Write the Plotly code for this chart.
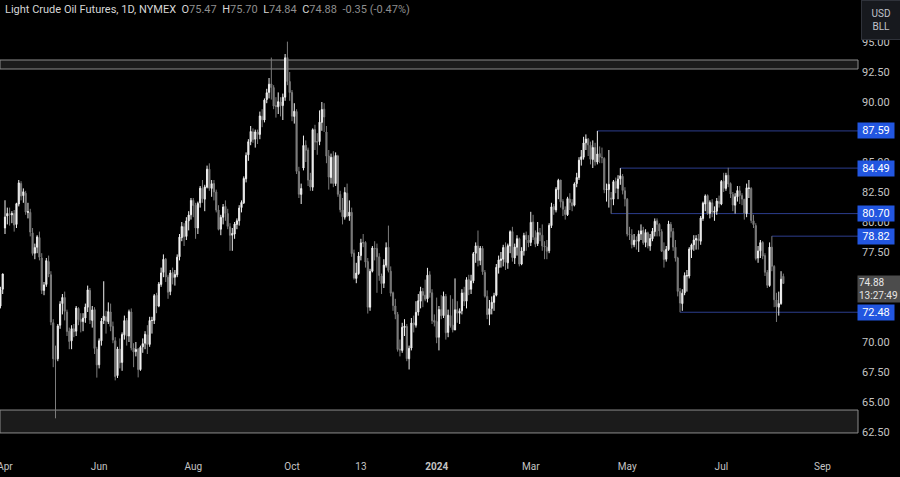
import pandas as pd
import plotly.graph_objects as go

# ---------------- trading calendar (x categories) ----------------
holidays = ["2023-04-07", "2023-05-29", "2023-06-19", "2023-07-04", "2023-09-04",
            "2023-11-23", "2023-12-25", "2024-01-01", "2024-01-15", "2024-02-19",
            "2024-03-29", "2024-05-27", "2024-06-19", "2024-07-04", "2024-09-02"]
calendar = pd.bdate_range("2023-03-27", "2024-09-30", freq="C", holidays=holidays)

# ---------------- daily OHLC ----------------
opens = [
    69.50, 72.90, 73.30, 73.00, 74.40,
    79.50, 80.50, 80.70, 80.60, 80.70, 79.80, 81.50, 83.20, 82.20, 82.40, 80.80, 80.80, 79.10, 77.40, 77.90, 78.70, 77.00, 74.30, 74.80,
    76.70, 75.60, 71.60, 68.60, 68.60, 71.40, 73.20, 73.70, 72.50, 70.90, 70.10, 71.10, 70.90, 72.80, 71.90, 71.70, 72.00, 72.90, 74.30, 71.80, 72.70, 69.40,
    68.10, 70.10, 71.80, 72.10, 71.70, 72.50, 71.30, 70.10, 67.20, 69.40, 68.30, 70.60, 71.80, 70.50, 72.50, 69.50, 69.20, 69.40, 67.70, 69.60, 69.90,
    70.60, 69.80, 71.80, 71.80, 73.90, 73.00, 74.80, 75.80, 76.90, 75.40, 74.20, 75.80, 75.40, 75.60, 77.10, 78.70, 79.60, 78.80, 80.10, 80.60,
    81.80, 81.40, 79.50, 81.60, 82.80, 81.90, 82.90, 84.40, 82.80, 83.20, 82.50, 81.00, 79.40, 80.40, 81.30, 80.70, 79.60, 78.90, 79.00, 79.80, 80.10, 81.20, 81.60,
    83.60, 85.60, 86.70, 87.50, 86.90, 87.50, 87.30, 88.80, 88.50, 90.20, 90.80, 91.50, 91.20, 89.70, 89.60, 90.00, 89.70, 90.40, 93.70, 91.70,
    90.80, 88.80, 89.20, 84.20, 82.30, 84.50, 86.40, 86.00, 83.50, 82.90, 87.70, 86.70, 86.70, 88.30, 89.40, 87.50, 85.50, 83.70, 85.40, 83.20, 85.50, 82.30,
    81.00, 80.40, 82.40, 80.50, 80.80, 77.40, 75.30, 75.70, 77.20, 78.30, 78.30, 76.70, 72.90, 75.90, 77.80, 77.80, 77.10, 75.50, 74.90, 76.40, 77.90,
    75.90, 74.10, 73.00, 72.30, 69.40, 69.30, 71.20, 71.30, 68.60, 69.50, 71.60, 71.40, 72.50, 73.40, 74.20, 73.90, 73.60, 75.60, 74.10, 71.80,
    71.70, 70.40, 72.70, 72.20, 73.80, 70.80, 72.20, 71.40, 71.00, 72.70, 72.40, 72.60, 74.10, 73.40, 75.20, 74.40, 75.10, 77.40, 78.00, 76.80, 77.80,
    75.80, 73.80, 72.30, 72.80, 73.30, 73.90, 76.20, 76.80, 76.90, 77.90, 76.60, 78.00, 79.20, 77.00, 77.90, 78.60, 76.50, 77.60, 78.90, 78.50,
    78.30, 80.00, 78.70, 78.20, 79.10, 78.90, 78.00, 77.90, 77.60, 79.70, 81.30, 81.00, 82.70, 83.50, 81.70, 81.00, 80.60, 81.90, 81.60, 81.40,
    83.20, 83.70, 85.20, 85.40, 86.60, 86.90, 86.40, 85.20, 86.20, 85.00, 85.70, 85.40, 85.30, 82.70, 82.70, 82.00, 81.90, 83.40, 82.80, 83.60, 83.80, 82.60,
    81.90, 79.00, 78.90, 78.10, 78.50, 78.40, 79.00, 79.30, 78.30, 79.10, 78.00, 78.60, 79.20, 80.10, 79.80, 79.20, 77.60, 76.90, 77.70, 79.80, 79.20, 77.90,
    77.00, 74.20, 73.20, 74.10, 75.50, 75.50, 77.70, 78.10, 78.50, 78.60, 78.40, 80.30, 81.50, 82.20, 80.70, 81.60, 80.80, 80.90, 81.70,
    81.50, 83.40, 82.80, 83.90, 83.20, 82.30, 81.40, 82.10, 82.60, 82.20, 81.90, 80.70, 82.80, 82.80, 80.10, 79.70, 77.00, 77.60, 78.30, 77.20, 75.80, 74.70,
    77.90, 76.30, 73.50, 72.90, 73.20, 75.47,
]
highs = [
    73.00, 73.80, 73.60, 74.60, 75.70,
    81.81, 81.20, 81.20, 80.90, 81.00, 81.60, 83.50, 83.40, 82.80, 82.60, 81.60, 81.10, 79.50, 78.20, 78.90, 79.20, 77.40, 75.00, 77.00,
    77.20, 75.90, 71.90, 69.70, 71.50, 73.40, 74.00, 74.20, 72.70, 71.20, 71.40, 71.50, 73.00, 72.90, 72.40, 72.40, 73.20, 74.70, 74.50, 73.00, 72.90, 69.60,
    70.30, 72.00, 75.06, 72.60, 73.30, 73.20, 71.70, 70.40, 69.60, 70.30, 70.80, 72.20, 72.00, 72.70, 72.80, 69.90, 70.00, 69.50, 69.70, 70.30, 70.90,
    71.40, 72.10, 72.10, 74.00, 74.10, 75.00, 76.20, 77.30, 77.00, 75.60, 76.00, 76.20, 76.00, 77.30, 79.00, 80.00, 79.90, 80.40, 80.90, 82.00,
    82.00, 81.60, 81.70, 83.00, 83.50, 83.10, 84.70, 84.89, 83.50, 83.50, 82.70, 81.40, 80.60, 81.50, 81.80, 81.10, 79.90, 79.50, 80.00, 80.30, 81.40, 81.80, 83.80,
    85.80, 86.90, 88.00, 87.80, 87.70, 87.70, 89.20, 89.40, 90.30, 91.10, 92.00, 93.70, 91.40, 90.40, 90.80, 90.40, 90.70, 94.00, 95.03, 92.50,
    91.00, 89.90, 89.40, 84.60, 83.20, 87.20, 86.80, 86.20, 84.10, 87.80, 88.10, 87.40, 89.30, 90.00, 89.90, 88.00, 86.00, 85.70, 85.90, 85.80, 85.60, 82.60,
    82.00, 82.90, 83.20, 81.80, 81.20, 77.70, 76.60, 77.50, 78.60, 79.00, 78.40, 77.00, 76.10, 78.00, 78.40, 78.20, 77.40, 75.70, 76.90, 78.30, 79.70,
    76.30, 74.20, 73.60, 72.50, 70.20, 71.60, 71.90, 71.50, 69.70, 72.00, 72.20, 73.40, 74.00, 74.60, 74.50, 75.20, 76.18, 75.90, 74.40, 72.30,
    73.70, 73.00, 73.90, 74.20, 74.00, 72.70, 73.90, 73.60, 75.30, 73.40, 72.80, 74.40, 74.60, 75.40, 75.60, 75.60, 77.50, 78.30, 79.29, 78.00, 78.00,
    76.00, 74.30, 73.50, 73.80, 74.10, 76.50, 77.20, 77.50, 78.10, 78.30, 78.20, 79.30, 79.60, 78.20, 78.90, 78.70, 77.90, 79.10, 79.20, 78.90,
    80.85, 80.60, 79.30, 80.00, 79.50, 79.80, 78.40, 78.50, 79.90, 81.60, 81.50, 82.90, 83.60, 83.50, 81.90, 81.30, 82.10, 82.40, 81.90, 83.30,
    84.10, 85.40, 86.00, 87.10, 87.30, 87.00, 86.70, 86.80, 86.60, 87.59, 86.30, 86.20, 85.40, 83.20, 86.00, 82.50, 83.50, 83.70, 83.90, 84.49, 84.00, 82.90,
    82.00, 79.60, 79.40, 79.00, 78.80, 79.30, 79.80, 79.60, 79.40, 79.20, 79.00, 79.50, 80.30, 80.30, 79.90, 79.40, 78.30, 78.00, 80.10, 80.00, 79.50, 78.50,
    77.10, 74.50, 74.40, 75.80, 76.00, 77.90, 78.20, 78.90, 78.90, 79.00, 80.50, 81.70, 82.30, 82.30, 81.80, 81.90, 81.30, 82.00, 82.20,
    83.50, 84.10, 84.10, 84.52, 83.30, 82.50, 82.40, 83.00, 83.00, 82.40, 81.90, 83.20, 83.50, 82.90, 80.60, 79.90, 78.00, 78.50, 78.40, 77.40, 76.00, 78.30,
    78.82, 76.40, 74.10, 74.20, 75.90, 75.70,
]
lows = [
    69.30, 72.20, 72.40, 72.80, 74.00,
    79.00, 79.80, 79.70, 79.90, 79.20, 79.50, 81.30, 81.80, 81.60, 80.60, 80.30, 78.80, 77.20, 76.90, 77.40, 76.80, 74.00, 73.90, 74.60,
    75.40, 71.40, 67.90, 63.64, 68.40, 71.10, 72.30, 71.80, 70.50, 69.40, 69.40, 70.40, 70.50, 71.40, 70.80, 70.90, 71.60, 72.50, 71.50, 71.20, 69.00, 67.03,
    67.80, 69.70, 71.50, 70.70, 71.50, 70.90, 69.90, 66.80, 67.00, 67.80, 67.60, 70.20, 69.70, 70.00, 69.30, 67.90, 68.80, 67.05, 67.60, 69.10, 69.40,
    69.00, 69.60, 70.70, 71.50, 72.40, 72.90, 74.60, 75.40, 75.00, 73.60, 73.90, 74.80, 74.70, 75.40, 76.80, 78.40, 78.00, 78.50, 79.30, 80.20,
    80.40, 78.60, 79.00, 81.20, 81.60, 80.90, 82.80, 82.60, 82.10, 81.80, 80.80, 79.30, 78.90, 79.80, 80.10, 79.40, 77.60, 77.60, 78.60, 79.40, 79.70, 80.80, 81.50,
    83.30, 85.10, 86.40, 86.60, 86.20, 86.50, 86.90, 87.90, 88.30, 89.90, 90.30, 90.20, 89.40, 88.70, 89.00, 88.80, 88.50, 90.10, 91.40, 90.10,
    88.40, 88.20, 84.00, 82.00, 81.50, 84.30, 85.00, 83.00, 82.60, 82.60, 86.00, 85.60, 86.40, 87.60, 87.50, 84.90, 82.70, 83.20, 82.90, 83.00, 82.10, 80.80,
    79.80, 80.20, 80.40, 80.10, 77.10, 75.20, 74.90, 75.60, 76.80, 77.90, 76.20, 72.37, 72.60, 75.80, 76.80, 74.10, 75.10, 74.00, 74.50, 76.20, 75.80,
    73.80, 72.60, 71.90, 69.20, 68.80, 69.10, 70.50, 68.40, 67.71, 69.30, 70.80, 71.20, 72.20, 72.80, 72.90, 73.40, 73.30, 73.70, 71.50, 71.30,
    69.90, 69.30, 71.90, 72.00, 70.20, 70.40, 71.20, 70.80, 71.00, 71.60, 71.50, 72.30, 73.00, 72.80, 73.90, 74.00, 74.90, 76.60, 76.30, 76.40, 75.60,
    73.70, 71.90, 71.40, 72.30, 72.60, 73.80, 75.70, 76.20, 76.30, 76.00, 76.10, 77.40, 76.70, 76.50, 77.20, 76.30, 76.40, 77.20, 77.60, 77.90,
    78.00, 78.50, 77.90, 78.00, 78.40, 77.60, 76.90, 76.90, 77.40, 79.50, 80.60, 80.80, 81.90, 81.20, 80.50, 80.20, 80.50, 81.00, 80.90, 81.30,
    82.90, 83.50, 84.70, 85.20, 86.00, 85.50, 84.80, 84.50, 84.70, 84.80, 84.90, 84.90, 82.40, 81.70, 81.20, 80.70, 81.40, 82.40, 81.90, 83.10, 82.30, 81.30,
    78.80, 78.50, 77.80, 77.90, 77.70, 77.50, 78.50, 78.10, 77.90, 77.80, 77.60, 78.40, 78.80, 78.80, 78.80, 77.50, 76.20, 76.70, 77.60, 78.70, 77.60, 76.70,
    73.80, 72.48, 72.60, 73.90, 74.20, 75.30, 77.00, 77.60, 77.70, 77.70, 78.10, 80.10, 80.90, 80.60, 80.30, 80.40, 80.10, 80.60, 81.20,
    81.40, 82.50, 82.60, 82.90, 82.00, 80.90, 80.70, 81.70, 81.50, 81.40, 80.20, 80.40, 82.00, 79.90, 79.50, 76.80, 76.60, 77.00, 76.90, 75.50, 74.50, 74.60,
    75.90, 72.90, 71.67, 72.20, 73.10, 74.84,
]
closes = [
    72.81, 73.20, 72.97, 74.37, 75.67,
    80.42, 80.71, 80.61, 80.70, 79.74, 81.53, 83.26, 82.16, 82.52, 80.83, 80.86, 79.16, 77.37, 77.87, 78.76, 77.07, 74.30, 74.76, 76.78,
    75.66, 71.66, 68.60, 68.56, 71.34, 73.16, 73.71, 72.56, 70.87, 70.04, 71.11, 70.86, 72.83, 71.86, 71.69, 71.99, 72.91, 74.34, 71.83, 72.67, 69.46, 68.09,
    70.10, 71.74, 72.15, 71.74, 72.53, 71.29, 70.17, 67.12, 69.42, 68.27, 70.62, 71.78, 70.50, 72.53, 69.51, 69.16, 69.37, 67.70, 69.56, 69.86, 70.64,
    69.79, 71.79, 71.80, 73.86, 72.99, 74.83, 75.75, 76.89, 75.42, 74.15, 75.75, 75.35, 75.63, 77.07, 78.74, 79.63, 78.78, 80.09, 80.58, 81.80,
    81.37, 79.49, 81.55, 82.82, 81.94, 82.92, 84.40, 82.82, 83.19, 82.51, 80.99, 79.38, 80.39, 81.25, 80.72, 79.64, 78.89, 79.05, 79.83, 80.10, 81.16, 81.63, 83.63,
    85.55, 86.69, 87.54, 86.87, 87.51, 87.29, 88.84, 88.52, 90.16, 90.77, 91.48, 91.20, 89.66, 89.63, 90.03, 89.68, 90.39, 93.68, 91.71, 90.79,
    88.82, 89.23, 84.22, 82.31, 82.79, 86.38, 85.97, 83.49, 82.91, 87.69, 86.66, 86.66, 88.32, 89.37, 88.75, 85.49, 83.74, 85.39, 83.21, 85.54, 82.31, 81.02,
    80.44, 82.46, 80.51, 80.82, 77.37, 75.33, 75.74, 77.17, 78.26, 78.26, 76.66, 72.90, 75.89, 77.83, 77.77, 77.10, 75.54, 74.86, 76.41, 77.86, 75.96,
    74.07, 73.04, 72.32, 69.38, 69.34, 71.23, 71.32, 68.61, 69.47, 71.58, 71.43, 72.47, 73.44, 74.22, 73.89, 73.56, 75.57, 74.11, 71.77, 71.65,
    70.38, 72.70, 72.19, 73.81, 70.77, 72.24, 71.37, 71.02, 72.68, 72.40, 72.56, 74.08, 73.41, 75.19, 74.37, 75.09, 77.36, 78.01, 76.78, 77.82, 75.85,
    73.82, 72.28, 72.78, 73.31, 73.86, 76.22, 76.84, 76.92, 77.87, 76.64, 78.03, 79.19, 77.04, 77.91, 78.61, 76.49, 77.58, 78.87, 78.54, 78.26,
    79.97, 78.74, 78.15, 79.13, 78.93, 78.01, 77.93, 77.56, 79.72, 81.26, 81.04, 82.72, 83.47, 81.68, 81.07, 80.63, 81.95, 81.62, 81.35, 83.17,
    83.71, 85.15, 85.43, 86.59, 86.91, 86.43, 85.23, 86.21, 85.02, 85.66, 85.41, 85.36, 82.69, 82.73, 83.14, 81.90, 83.36, 82.81, 83.57, 83.85, 82.63, 81.93,
    79.00, 78.95, 78.11, 78.48, 78.38, 78.99, 79.26, 78.26, 79.12, 78.02, 78.63, 79.23, 80.06, 79.80, 79.26, 77.57, 76.87, 77.72, 79.83, 79.23, 77.91, 76.99,
    74.22, 73.25, 74.07, 75.55, 75.53, 77.74, 78.09, 78.50, 78.62, 78.45, 80.33, 81.57, 82.17, 80.73, 81.63, 80.83, 80.90, 81.74, 81.54,
    83.38, 82.81, 83.88, 83.16, 82.33, 81.41, 82.10, 82.62, 82.21, 81.91, 80.76, 82.85, 82.82, 80.13, 79.78, 76.96, 77.59, 78.28, 77.16, 75.81, 74.73, 77.91,
    76.31, 73.52, 72.94, 73.20, 75.23, 74.88,
]

# ---------------- drawn levels / zones ----------------
level_values = [87.59, 84.49, 80.70, 78.82, 72.48]
level_start_dates = ["2024-04-12", "2024-04-26", "2024-04-22", "2024-08-01", "2024-06-04"]
zone_top = [92.75, 93.50]
zone_bottom = [62.42, 64.33]

tick_dates = ["2023-04-03", "2023-06-01", "2023-08-01", "2023-10-02", "2023-11-13",
              "2024-01-02", "2024-03-01", "2024-05-01", "2024-07-01", "2024-09-03"]
tick_text = ["Apr", "Jun", "Aug", "Oct", "13", "<b>2024</b>", "Mar", "May", "Jul", "Sep"]
price_ticks = [62.5, 65.0, 67.5, 70.0, 72.5, 75.0, 77.5, 80.0, 82.5, 85.0, 87.5, 90.0, 92.5, 95.0]

last_price = 74.88
countdown = "13:27:49"
header_name = "Light Crude Oil Futures, 1D, NYMEX"
header_vals = [("O", "75.47"), ("H", "75.70"), ("L", "74.84"), ("C", "74.88")]
header_change = "-0.35 (-0.47%)"

# ---------------- build ----------------
n = min(len(opens), len(highs), len(lows), len(closes))
dates = calendar[:n]
pos = list(range(n))
cal_index = {d.strftime("%Y-%m-%d"): i for i, d in enumerate(calendar)}

UP = "#f0f0f0"
DOWN = "#7c7c7c"
BLUE_LINE = "#2c3d8e"
BLUE_LABEL = "#2256e0"
AXIS_TXT = "#c4c4c4"
FONT = "Roboto, Liberation Sans, sans-serif"

px_per_day = 2.296
anchor = cal_index["2023-04-03"]
x0 = anchor - 5 / px_per_day
x1 = anchor + (858 - 5) / px_per_day

y_bottom = 92.5 - (455 - 72) / 12.0
y_top = 92.5 + 72 / 12.0

fig = go.Figure()
fig.add_trace(go.Candlestick(
    x=pos, open=opens[:n], high=highs[:n], low=lows[:n], close=closes[:n],
    text=[d.strftime("%Y-%m-%d") for d in dates],
    increasing=dict(line=dict(color=UP, width=1), fillcolor=UP),
    decreasing=dict(line=dict(color=DOWN, width=1), fillcolor=DOWN),
    whiskerwidth=0, showlegend=False,
))

shapes = []
for lo, hi in (zone_top, zone_bottom):
    shapes.append(dict(type="rect", xref="paper", x0=0, x1=1, yref="y", y0=lo, y1=hi,
                       fillcolor="#1b1b1b", line=dict(color="#8c8c8c", width=1), layer="below"))
for v, d in zip(level_values, level_start_dates):
    shapes.append(dict(type="line", xref="x", x0=cal_index[d], x1=x1 + 5, yref="y", y0=v, y1=v,
                       line=dict(color=BLUE_LINE, width=1), layer="below"))

annotations = []
for v in level_values:
    annotations.append(dict(xref="paper", x=1, xanchor="left", xshift=-1, yref="y", y=v,
                            yanchor="middle", text=f"{v:.2f}", showarrow=False,
                            bgcolor=BLUE_LABEL, font=dict(color="white", size=11, family=FONT),
                            width=34, height=13, borderpad=1, align="center"))
annotations.append(dict(xref="paper", x=1, xanchor="left", xshift=-1, yref="y", y=last_price,
                        yanchor="top", yshift=8, text=f"{last_price:.2f}<br>{countdown}",
                        showarrow=False, bgcolor="#4c4c4c",
                        font=dict(color="#e6e6e6", size=10, family=FONT),
                        align="left", width=46, borderpad=1))
annotations.append(dict(xref="paper", x=1, xanchor="left", xshift=3, yref="paper", y=1,
                        yanchor="top", text="USD<br>BLL", showarrow=False,
                        bgcolor="#17191e", bordercolor="#2f323a", borderwidth=1,
                        font=dict(color="#c0c3cb", size=10, family=FONT),
                        align="center", width=36, height=36, borderpad=1))
sep = "\u00a0\u00a0"
header = header_name + sep
for k, val in header_vals:
    header += f"{k}<span style='color:#8e8e8e'>{val}</span>" + sep
header += f"<span style='color:#8e8e8e'>{header_change}</span>"
annotations.append(dict(xref="paper", x=0, xanchor="left", xshift=3, yref="paper", y=1,
                        yanchor="top", yshift=-1, text=header, showarrow=False,
                        font=dict(color="#d6d6d6", size=11, family=FONT), align="left"))

fig.update_layout(
    width=900, height=477,
    margin=dict(l=0, r=42, t=0, b=22, autoexpand=False),
    paper_bgcolor="#000000", plot_bgcolor="#000000",
    showlegend=False, shapes=shapes, annotations=annotations,
    font=dict(family=FONT, color=AXIS_TXT),
    xaxis=dict(range=[x0, x1], tickmode="array",
               tickvals=[cal_index[d] for d in tick_dates], ticktext=tick_text,
               showgrid=False, zeroline=False, showline=False, ticks="",
               automargin=False, ticklabeloverflow="allow", ticklabelstandoff=4,
               tickfont=dict(size=10, color=AXIS_TXT, family=FONT),
               rangeslider=dict(visible=False), fixedrange=True),
    yaxis=dict(side="right", range=[y_bottom, y_top], tickmode="array",
               tickvals=price_ticks, tickformat=".2f",
               showgrid=False, zeroline=False, showline=False, ticks="",
               automargin=False, ticklabeloverflow="allow", ticklabelstandoff=3,
               tickfont=dict(size=11, color=AXIS_TXT, family=FONT), fixedrange=True),
)

fig.write_html(
    "out.html",
    config={"displayModeBar": False, "staticPlot": True},
    post_script="document.body.style.margin='0';document.body.style.overflow='hidden';"
                "document.body.style.background='#000';",
)
